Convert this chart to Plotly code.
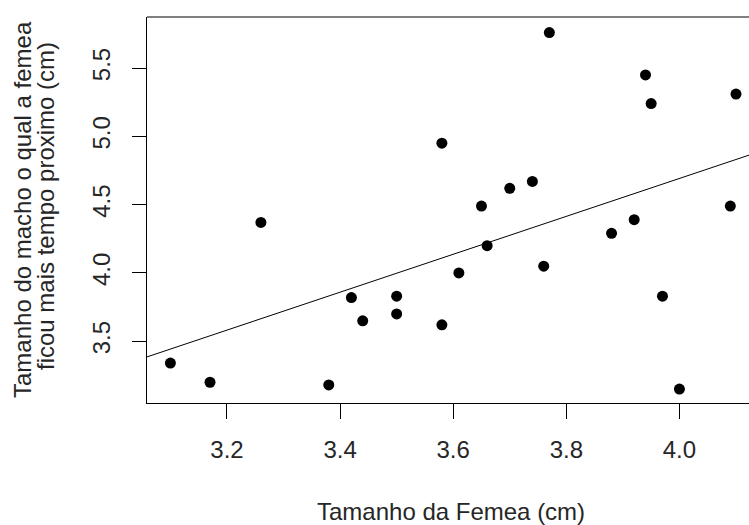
import plotly.graph_objects as go

# Data
femea = [3.10, 3.17, 3.26, 3.38, 3.42, 3.44, 3.50, 3.50, 3.58, 3.58,
         3.61, 3.65, 3.66, 3.70, 3.74, 3.76, 3.77, 3.88, 3.92, 3.94,
         3.95, 3.97, 4.00, 4.09, 4.10]
macho = [3.34, 3.20, 4.37, 3.18, 3.82, 3.65, 3.83, 3.70, 4.95, 3.62,
         4.00, 4.49, 4.20, 4.62, 4.67, 4.05, 5.76, 4.29, 4.39, 5.45,
         5.24, 3.83, 3.15, 4.49, 5.31]

# fitted line (abline)
intercept = -0.860
slope = 1.388

x_ticks = [3.2, 3.4, 3.6, 3.8, 4.0]
x_ticklabels = ["3.2", "3.4", "3.6", "3.8", "4.0"]
y_ticks = [3.5, 4.0, 4.5, 5.0, 5.5]
y_ticklabels = ["3.5", "4.0", "4.5", "5.0", "5.5"]

x_title = "Tamanho da Femea (cm)"
y_title_1 = "Tamanho do macho o qual a femea"
y_title_2 = "ficou mais tempo proximo (cm)"

x_range = [3.0586, 4.123]
y_range = [3.048, 5.874]

W, H = 749, 525
L, R, T, B = 147, 0, 17, 122
pw, ph = W - L - R, H - T - B

def px_x(p):
    return (p - L) / pw

def px_y(p):
    return (H - B - p) / ph

font_fam = "Liberation Sans, Arial, sans-serif"
txt_col = "#262626"
FS = 24

fig = go.Figure()
fig.add_trace(go.Scatter(
    x=x_range, y=[intercept + slope * v for v in x_range],
    mode="lines", line=dict(color="black", width=1), showlegend=False,
    hoverinfo="skip"))
fig.add_trace(go.Scatter(
    x=femea, y=macho, mode="markers",
    marker=dict(color="black", size=11, line=dict(width=0)),
    showlegend=False))

fig.update_layout(
    width=W, height=H,
    margin=dict(l=L, r=R, t=T, b=B, pad=0),
    paper_bgcolor="white", plot_bgcolor="white",
    font=dict(family=font_fam, color=txt_col, size=FS),
    xaxis=dict(range=x_range, tickvals=x_ticks, ticktext=x_ticklabels,
               showgrid=False, zeroline=False, showline=True,
               linecolor="black", linewidth=1, ticks="outside",
               ticklen=15, tickwidth=1, tickcolor="black",
               ticklabelstandoff=10,
               tickfont=dict(size=FS, color=txt_col, family=font_fam)),
    yaxis=dict(range=y_range, tickvals=y_ticks, ticktext=y_ticklabels,
               showgrid=False, zeroline=False, showline=True,
               linecolor="black", linewidth=1, ticks="outside",
               ticklen=14, tickwidth=1, tickcolor="black",
               tickangle=-90, ticklabelstandoff=12,
               tickfont=dict(size=FS, color=txt_col, family=font_fam)),
    shapes=[dict(type="line", xref="paper", yref="paper",
                 x0=0, x1=1, y0=1, y1=1,
                 line=dict(color="black", width=1))],
    annotations=[
        dict(text=x_title, xref="paper", yref="paper",
             x=px_x(451), y=px_y(511), showarrow=False,
             xanchor="center", yanchor="middle",
             font=dict(size=FS, color=txt_col, family=font_fam)),
        dict(text=y_title_1, xref="paper", yref="paper",
             x=px_x(22), y=px_y(210), showarrow=False, textangle=-90,
             xanchor="center", yanchor="middle",
             font=dict(size=FS, color=txt_col, family=font_fam)),
        dict(text=y_title_2, xref="paper", yref="paper",
             x=px_x(45), y=px_y(206), showarrow=False, textangle=-90,
             xanchor="center", yanchor="middle",
             font=dict(size=FS, color=txt_col, family=font_fam)),
    ],
)

fig.write_html("out.html", config={"displayModeBar": False},
               post_script="document.body.style.margin='0px';")
